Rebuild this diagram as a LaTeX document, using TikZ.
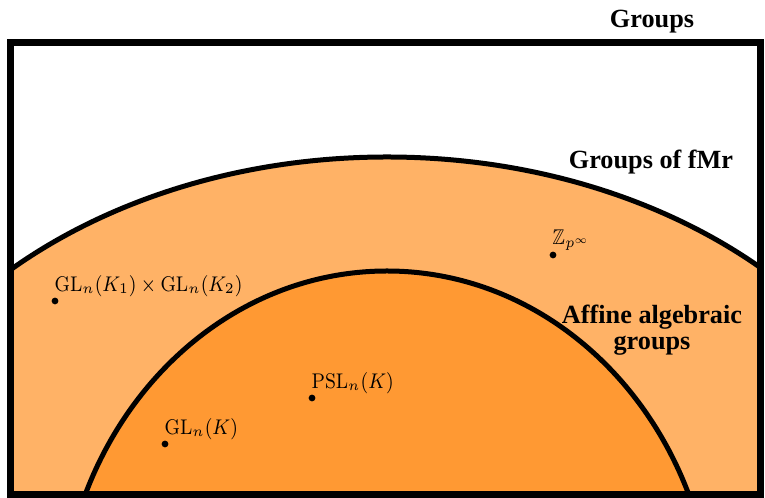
\RequirePackage{fix-cm}
\documentclass[tikz,border=0pt]{standalone}
\usepackage{amssymb}
\usepackage[no-math]{fontspec}
\setmainfont{Liberation Serif}
\usetikzlibrary{positioning}

\begin{document}
\begin{tikzpicture}[
				x=0.4pt, y=0.4pt,
				region/.style={
					draw=black, line width=2pt
				},
				dot/.style={
					circle, fill=black, inner sep=0pt, minimum size=2.7pt
				},
				lbl/.style={
					inner sep=0pt, xscale=0.87, transform shape,
					font=\fontsize{8.5}{10}\selectfont
				},
				title/.style={
					inner sep=0pt, align=center, font=\fontsize{10.5}{12.6}\selectfont\bfseries
				}
				]
				\useasboundingbox (0,0) rectangle (765,498);
				
				% nested regions
				\begin{scope}
					\clip (10,3) rectangle (760,455);
					\filldraw[region, fill=orange!60] (387,-68) ellipse [x radius=546, y radius=409];
					\filldraw[region, fill=orange!80] (387,-137) ellipse [x radius=327, y radius=364];
				\end{scope}
				
				% all groups
				\draw[line width=2.8pt] (10,3) rectangle (760,455);
				
				% titles
				\node[title, anchor=base] (groups) at (652,470) {Groups};
				\node[title, anchor=base] (fmr) at (651,329) {Groups of fMr};
				\node[title] (affine) at (652,168) {Affine algebraic\\[-2pt]groups};
				
				% examples
				\node[dot] (prod) at (55,197) {};
				\node[lbl, above right=0.5pt and -1.4pt of prod] (prodlbl) {$\mathrm{GL}_n(K_1)\times\mathrm{GL}_n(K_2)$};
				
				\node[dot] (prufer) at (553,243) {};
				\node[lbl, above right=0.5pt and -1.4pt of prufer] (pruferlbl) {$\mathbb{Z}_{p^\infty}$};
				
				\node[dot] (psl) at (312,100) {};
				\node[lbl, above right=0.5pt and -1.4pt of psl] (psllbl) {$\mathrm{PSL}_n(K)$};
				
				\node[dot] (gl) at (165,54) {};
				\node[lbl, above right=0.5pt and -1.4pt of gl] (gllbl) {$\mathrm{GL}_n(K)$};
			\end{tikzpicture}
\end{document}
